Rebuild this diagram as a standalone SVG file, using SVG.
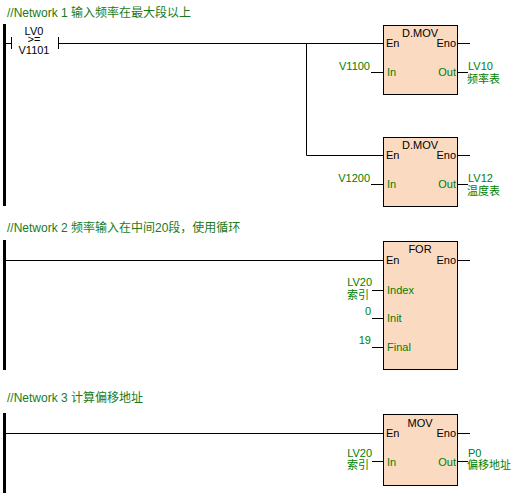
<svg xmlns="http://www.w3.org/2000/svg" width="519" height="493" viewBox="0 0 519 493">
<style>
.t{font-family:"Liberation Sans","Noto Sans CJK SC",sans-serif;font-size:12px;fill:#1a7a1a}
.k{font-family:"Liberation Sans","Noto Sans CJK SC",sans-serif;font-size:11px;fill:#000}
.g{font-family:"Liberation Sans","Noto Sans CJK SC",sans-serif;font-size:11px;fill:#008000}
.w{stroke:#000;stroke-width:1;fill:none}
.rail{fill:#000}
.box{fill:#fadbc2;stroke:#000;stroke-width:1}
</style>
<rect width="519" height="493" fill="#fff"/>
<text class="t" x="7" y="17">//Network 1 输入频率在最大段以上</text>
<text class="t" x="7" y="232">//Network 2 频率输入在中间20段，使用循环</text>
<text class="t" x="7" y="402">//Network 3 计算偏移地址</text>
<g id="rails">
<rect class="rail" x="3" y="24" width="3" height="182"/>
<rect class="rail" x="3" y="240" width="3" height="130"/>
<rect class="rail" x="3" y="413" width="3" height="80"/>
</g>
<g id="connectors">
<path class="w" d="M6 43.5H11.5M58.5 43.5H383M306.5 43.5V155.5H383"/>
<path class="w" d="M458 43.5H470M458 155.5H470M458 72.5H468M458 184.5H468M371 72.5H383M371 184.5H383"/>
<path class="w" d="M6 260.5H383M458 260.5H470M372 290.5H383M372 318.5H383M372 347.5H383"/>
<path class="w" d="M6 433.5H383M458 433.5H470M372 461.5H383M458 461.5H468"/>
</g>
<g id="contact">
<path class="w" d="M11.5 37V49M58.5 37V49"/>
<text class="k" x="34" y="35" text-anchor="middle" font-size="12">LV0</text>
<text class="k" x="34" y="43" text-anchor="middle" font-size="9">&gt;=</text>
<text class="k" x="34" y="54" text-anchor="middle" font-size="12">V1101</text>
</g>
<g id="dmov1">
<rect class="box" x="383.5" y="25.5" width="74" height="69"/>
<text class="k" x="420" y="37" text-anchor="middle">D.MOV</text>
<text class="k" x="386" y="47">En</text>
<text class="k" x="456" y="47" text-anchor="end">Eno</text>
<text class="g" x="387" y="76">In</text>
<text class="g" x="456" y="76" text-anchor="end">Out</text>
<text class="g" x="370" y="70" text-anchor="end">V1100</text>
<text class="g" x="468" y="70">LV10</text>
<text class="g" x="467" y="83">频率表</text>
</g>
<g id="dmov2">
<rect class="box" x="383.5" y="137.5" width="74" height="69"/>
<text class="k" x="420" y="149" text-anchor="middle">D.MOV</text>
<text class="k" x="386" y="159">En</text>
<text class="k" x="456" y="159" text-anchor="end">Eno</text>
<text class="g" x="387" y="188">In</text>
<text class="g" x="456" y="188" text-anchor="end">Out</text>
<text class="g" x="370" y="182" text-anchor="end">V1200</text>
<text class="g" x="468" y="182">LV12</text>
<text class="g" x="467" y="195">温度表</text>
</g>
<g id="for">
<rect class="box" x="383.5" y="241.5" width="74" height="128"/>
<text class="k" x="420" y="253" text-anchor="middle">FOR</text>
<text class="k" x="386" y="264">En</text>
<text class="k" x="456" y="264" text-anchor="end">Eno</text>
<text class="g" x="387" y="294">Index</text>
<text class="g" x="387" y="322">Init</text>
<text class="g" x="387" y="351">Final</text>
<text class="g" x="372" y="286" text-anchor="end">LV20</text>
<text class="g" x="369" y="299" text-anchor="end">索引</text>
<text class="g" x="371" y="315" text-anchor="end">0</text>
<text class="g" x="371" y="344" text-anchor="end">19</text>
</g>
<g id="mov">
<rect class="box" x="383.5" y="414.5" width="74" height="71"/>
<text class="k" x="420" y="427" text-anchor="middle">MOV</text>
<text class="k" x="386" y="437">En</text>
<text class="k" x="456" y="437" text-anchor="end">Eno</text>
<text class="g" x="387" y="466">In</text>
<text class="g" x="456" y="466" text-anchor="end">Out</text>
<text class="g" x="372" y="457" text-anchor="end">LV20</text>
<text class="g" x="369" y="469" text-anchor="end">索引</text>
<text class="g" x="468" y="457">P0</text>
<text class="g" x="467" y="469">偏移地址</text>
</g>
</svg>
